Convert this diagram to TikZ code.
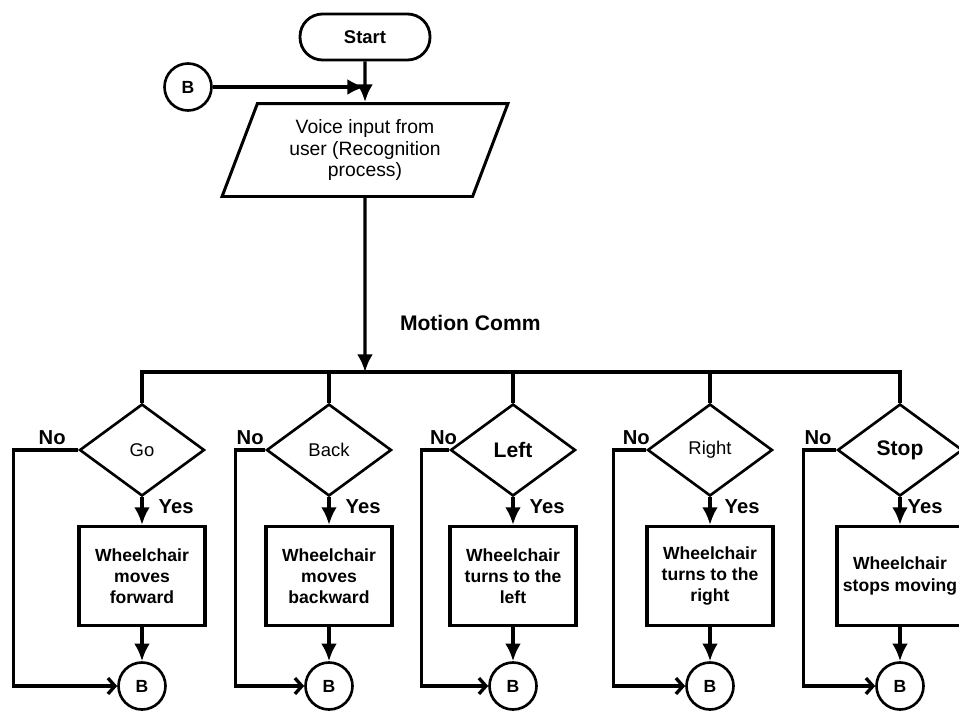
\documentclass[tikz,border=0pt]{standalone}
\usepackage{fontspec}
\setmainfont{Liberation Sans}
\usetikzlibrary{shapes.geometric, positioning, arrows.meta}

\begin{document}
\begin{tikzpicture}[x=0.02cm, y=-0.02cm,
    line/.style={line width=1.9pt},
    arr/.style={line, -{Latex[length=10pt, width=9pt]}},
    noarr/.style={line, -{Straight Barb[length=4pt, width=9pt]}},
    terminal/.style={draw, line width=1.6pt, rounded corners=0.45cm, minimum width=2.6cm, minimum height=0.92cm, font=\bfseries\fontsize{10.5}{12}\selectfont},
    io/.style={draw, trapezium, trapezium left angle=70, trapezium right angle=110, trapezium stretches=true, line width=1.7pt, minimum width=5.72cm, minimum height=1.86cm, align=center, font=\fontsize{11}{12.5}\selectfont},
    decision/.style={draw, diamond, line width=1.5pt, minimum width=2.5cm, minimum height=1.84cm, inner sep=0pt, font=\fontsize{10.5}{12}\selectfont},
    bigdecision/.style={decision, font=\bfseries\fontsize{12}{14}\selectfont},
    action/.style={draw, rectangle, line width=1.9pt, minimum width=2.52cm, minimum height=1.98cm, align=center, font=\bfseries\fontsize{10}{12}\selectfont},
    conn/.style={draw, circle, line width=1.5pt, minimum size=0.94cm, inner sep=0pt, font=\bfseries\fontsize{10}{12}\selectfont},
    yes/.style={right=0.3cm, pos=0.35, inner sep=0pt, font=\bfseries\fontsize{11.5}{13}\selectfont},
    nolabel/.style={above, inner sep=2pt, font=\bfseries\fontsize{11.5}{13}\selectfont}]
    \useasboundingbox (0,0) rectangle (959,710);

    % Nodes
    \node[terminal] (start) at (365,37) {Start};
    \node[conn] (b0) at (188,87) {B};
    \node[io] (input) at (365,150) {Voice input from\\user (Recognition\\process)};
    \coordinate (bus) at (365,372);

    \node[decision] (go) at (142,450) {Go};
    \node[decision] (back) at (329,450) {Back};
    \node[bigdecision] (left) at (513,450) {Left};
    \node[decision] (right) at (710,450) {Right};
    \node[bigdecision] (stop) at (900,450) {Stop};

    \node[action] (fwd) at (142,576) {Wheelchair\\moves\\forward};
    \node[action] (bwd) at (329,576) {Wheelchair\\moves\\backward};
    \node[action] (tl) at (513,576) {Wheelchair\\turns to the\\left};
    \node[action] (tr) at (710,576) {Wheelchair\\turns to the\\right};
    \node[action] (halt) at (900,576) {Wheelchair\\stops moving};

    \node[conn] (bgo) at (142,686) {B};
    \node[conn] (bback) at (329,686) {B};
    \node[conn] (bleft) at (513,686) {B};
    \node[conn] (bright) at (710,686) {B};
    \node[conn] (bstop) at (900,686) {B};

    % Edges
    \draw[arr] (start) -- (input);
    \draw[arr] (b0) -- (b0 -| start);
    \draw[arr] (input) -- node[right=0.55cm, pos=0.72, font=\bfseries\fontsize{12}{14}\selectfont] {Motion Comm} (bus);

    \draw[line] (go.north) -- (go.north |- bus) -- (stop.north |- bus) -- (stop.north);
    \draw[line] (bus -| back) -- (back.north);
    \draw[line] (bus -| left) -- (left.north);
    \draw[line] (bus -| right) -- (right.north);

    \draw[arr] (go) -- node[yes] {Yes} (fwd);
    \draw[arr] (back) -- node[yes] {Yes} (bwd);
    \draw[arr] (left) -- node[yes] {Yes} (tl);
    \draw[arr] (right) -- node[yes, right=0.26cm] {Yes} (tr);
    \draw[arr] (stop) -- node[yes, right=0.12cm] {Yes} (halt);

    \draw[arr] (fwd) -- (bgo);
    \draw[arr] (bwd) -- (bback);
    \draw[arr] (tl) -- (bleft);
    \draw[arr] (tr) -- (bright);
    \draw[arr] (halt) -- (bstop);

    \draw[noarr] (go.west) -- node[nolabel, pos=0.4] {No} ++(-65,0) |- (bgo);
    \draw[noarr] (back.west) -- node[nolabel, pos=0.5] {No} ++(-30,0) |- (bback);
    \draw[noarr] (left.west) -- node[nolabel, pos=0.2] {No} ++(-28,0) |- (bleft);
    \draw[noarr] (right.west) -- node[nolabel, pos=0.3] {No} ++(-33,0) |- (bright);
    \draw[noarr] (stop.west) -- node[nolabel, pos=0.55] {No} ++(-33,0) |- (bstop);
\end{tikzpicture}
\end{document}
